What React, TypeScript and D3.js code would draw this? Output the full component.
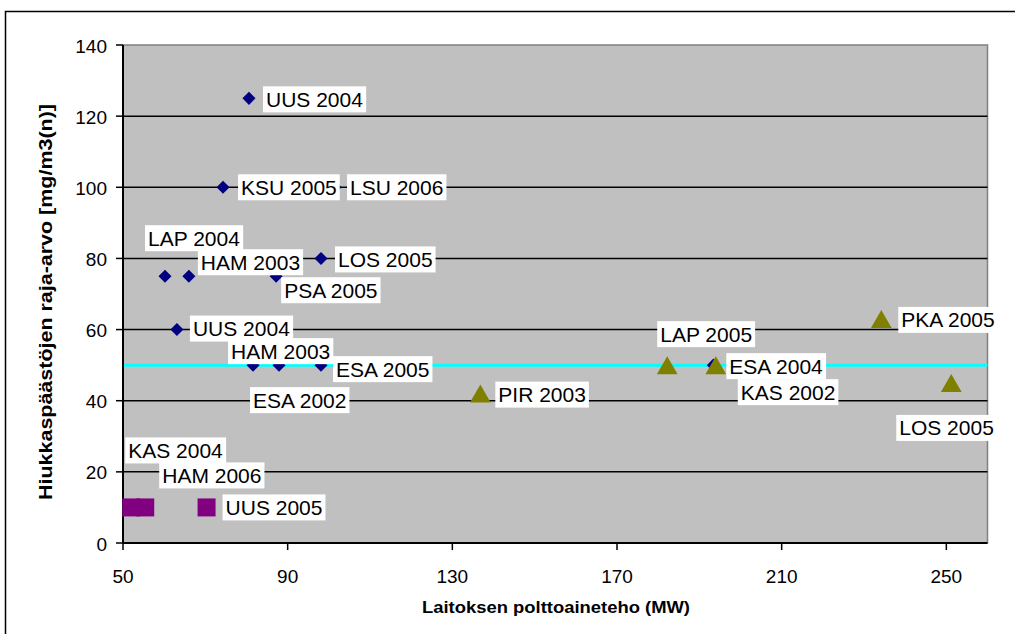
import React, { useEffect, useRef } from 'react';
import * as d3 from 'd3';

// ---- data ----
const xTicks = [50, 90, 130, 170, 210, 250];
const yTicks = [0, 20, 40, 60, 80, 100, 120, 140];
const limitValue = 50;

const diamondNames = ['UUS 2004', 'KSU 2005', 'LSU 2006', 'LAP 2004', 'HAM 2003', 'PSA 2005', 'LOS 2005', 'UUS 2004', 'HAM 2003', 'ESA 2002', 'ESA 2005', 'ESA 2004'];
const diamondX = [80.6, 74.3, 101.5, 60.2, 66, 87.2, 98.1, 63.1, 81.6, 87.9, 98.1, 193.4];
const diamondY = [125, 100, 100, 75, 75, 75, 80, 60, 50, 50, 50, 50];

const triangleNames = ['PIR 2003', 'LAP 2005', 'KAS 2002', 'PKA 2005', 'LOS 2005'];
const triangleX = [136.8, 182.2, 194, 234.2, 251.2];
const triangleY = [42, 50, 50, 63, 45];

const squareNames = ['KAS 2004', 'HAM 2006', 'UUS 2005'];
const squareX = [52, 55.4, 70.3];
const squareY = [10, 10, 10];

const xTitle = 'Laitoksen polttoaineteho (MW)';
const yTitle = 'Hiukkaspäästöjen raja-arvo [mg/m3(n)]';

// ---- layout (label offsets from marker, px: text left, text middle) ----
const diamondLabelOffsets = [[17, 1], [18, 0], [15, 0], [-17, -38], [12, -14], [8, 14], [17, 1], [16, -1], [-22, -14], [-26, 35], [15, 4], [16, 1]];
const triangleLabelOffsets = [[18, 1], [-7, -31], [25, 27], [20, 1], [-52, 45]];
const squareLabelOffsets = [[-3, -57], [17, -32], [19, 0]];

const W = 1015, H = 634;

export default function App() {
  const ref = useRef<SVGSVGElement>(null);
  useEffect(() => {
    const svg = d3.select(ref.current);
    svg.selectAll('*').remove();
    const font = 'Liberation Sans, Arial, sans-serif';
    const x = d3.scaleLinear().domain([50, 260]).range([123, 987.5]);
    const y = d3.scaleLinear().domain([0, 140]).range([543, 45]);

    svg.append('rect').attr('x', 0).attr('y', 0).attr('width', W).attr('height', H).attr('fill', '#fff');
    // outer chart border
    svg.append('rect').attr('x', 5.5).attr('y', 11.5).attr('width', W + 20).attr('height', H + 20)
      .attr('fill', 'none').attr('stroke', '#000').attr('stroke-width', 1.5);

    // plot area
    svg.append('rect').attr('x', x(50)).attr('y', y(140)).attr('width', x(260) - x(50)).attr('height', y(0) - y(140))
      .attr('fill', '#c0c0c0').attr('stroke', '#808080').attr('stroke-width', 1.5);

    // grid
    svg.append('g').selectAll('line').data(yTicks.filter(t => t > 0 && t < 140)).join('line')
      .attr('x1', x(50)).attr('x2', x(260)).attr('y1', d => y(d)).attr('y2', d => y(d))
      .attr('stroke', '#000').attr('stroke-width', 1.5);

    // limit line
    svg.append('line').attr('x1', x(50)).attr('x2', x(260)).attr('y1', y(limitValue)).attr('y2', y(limitValue))
      .attr('stroke', '#00ffff').attr('stroke-width', 3);

    // axes
    svg.append('line').attr('x1', x(50)).attr('x2', x(50)).attr('y1', y(140)).attr('y2', y(0)).attr('stroke', '#000').attr('stroke-width', 2);
    svg.append('line').attr('x1', x(50)).attr('x2', x(260)).attr('y1', y(0)).attr('y2', y(0)).attr('stroke', '#000').attr('stroke-width', 2);
    svg.append('g').selectAll('line').data(yTicks).join('line')
      .attr('x1', x(50) - 7).attr('x2', x(50)).attr('y1', d => y(d)).attr('y2', d => y(d)).attr('stroke', '#000').attr('stroke-width', 1.5);
    svg.append('g').selectAll('line').data(xTicks).join('line')
      .attr('x1', d => x(d)).attr('x2', d => x(d)).attr('y1', y(0)).attr('y2', y(0) + 7).attr('stroke', '#000').attr('stroke-width', 1.5);

    svg.append('g').selectAll('text').data(yTicks).join('text')
      .attr('x', x(50) - 16).attr('y', d => y(d) + 7.5).attr('text-anchor', 'end')
      .attr('font-family', font).attr('font-size', 19).attr('fill', '#000').text(d => d);
    svg.append('g').selectAll('text').data(xTicks).join('text')
      .attr('x', d => x(d)).attr('y', 583).attr('text-anchor', 'middle')
      .attr('font-family', font).attr('font-size', 19).attr('fill', '#000').text(d => d);

    svg.append('text').attr('x', 556).attr('y', 613).attr('text-anchor', 'middle')
      .attr('font-family', font).attr('font-size', 17).attr('font-weight', 'bold')
      .attr('textLength', 268).attr('lengthAdjust', 'spacingAndGlyphs').text(xTitle);
    svg.append('text').attr('transform', 'translate(52,302) rotate(-90)').attr('text-anchor', 'middle')
      .attr('font-family', font).attr('font-size', 18).attr('font-weight', 'bold')
      .attr('textLength', 396).attr('lengthAdjust', 'spacingAndGlyphs').text(yTitle);

    // markers
    const diamond = d3.symbol().type(d3.symbolSquare).size(85)();
    const tri = d3.symbol().type(d3.symbolTriangle).size(187)();
    const sq = d3.symbol().type(d3.symbolSquare).size(324)();

    svg.append('g').selectAll('path').data(diamondX).join('path')
      .attr('d', diamond).attr('transform', (d, i) => `translate(${x(d)},${y(diamondY[i])}) rotate(45)`).attr('fill', '#000080');
    svg.append('g').selectAll('path').data(triangleX).join('path')
      .attr('d', tri).attr('transform', (d, i) => `translate(${x(d)},${y(triangleY[i]) + 3})`).attr('fill', '#808000');
    svg.append('g').selectAll('path').data(squareX).join('path')
      .attr('d', sq).attr('transform', (d, i) => `translate(${x(d)},${y(squareY[i])})`).attr('fill', '#800080');

    // labels
    const lg = svg.append('g');
    const addLabels = (names: string[], xs: number[], ys: number[], offs: number[][]) => {
      names.forEach((n, i) => {
        const lx = x(xs[i]) + offs[i][0];
        const ly = y(ys[i]) + offs[i][1];
        const g = lg.append('g');
        const rect = g.append('rect').attr('fill', '#fff');
        const t = g.append('text').attr('x', lx).attr('y', ly).attr('dy', '0.36em')
          .attr('font-family', font).attr('font-size', 21).attr('fill', '#000').text(n);
        const bb = (t.node() as SVGTextElement).getBBox();
        rect.attr('x', bb.x - 3).attr('y', ly - 13).attr('width', bb.width + 6).attr('height', 26);
      });
    };
    addLabels(diamondNames, diamondX, diamondY, diamondLabelOffsets);
    addLabels(triangleNames, triangleX, triangleY, triangleLabelOffsets);
    addLabels(squareNames, squareX, squareY, squareLabelOffsets);
  }, []);
  return <svg ref={ref} width={W} height={H} style={{ position: 'absolute', left: 0, top: 0, display: 'block' }} />;
}
